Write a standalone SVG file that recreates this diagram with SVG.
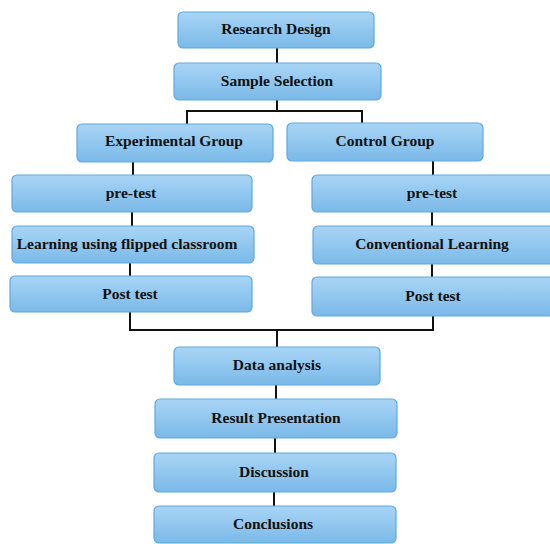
<svg xmlns="http://www.w3.org/2000/svg" width="550" height="544" viewBox="0 0 550 544">
  <defs>
    <linearGradient id="boxFill" x1="0" y1="0" x2="0" y2="1">
      <stop offset="0" stop-color="#a9d5f6"/>
      <stop offset="1" stop-color="#7ab9e8"/>
    </linearGradient>
  </defs>
  <style>
    .box { fill: url(#boxFill); stroke: #5ea9e2; stroke-width: 1.2; }
    .label { font-family: "Liberation Serif", "Times New Roman", serif; font-weight: bold; font-size: 15.5px; fill: #111; text-anchor: middle; dominant-baseline: central; }
    .wire { fill: none; stroke: #111; stroke-width: 2; }
  </style>
  <rect width="550" height="544" fill="#ffffff"/>

  <!-- connectors -->
  <g id="connectors">
    <path class="wire" d="M277 48 V63"/>
    <path class="wire" d="M277 100 V111 M187 111 H362 M187 110 V124 M362 110 V123"/>
    <path class="wire" d="M133 162 V175"/>
    <path class="wire" d="M433 161 V175"/>
    <path class="wire" d="M132 212 V226"/>
    <path class="wire" d="M432 212 V226"/>
    <path class="wire" d="M130 263 V276"/>
    <path class="wire" d="M432 264 V277"/>
    <path class="wire" d="M130 312 V330 H433 V316"/>
    <path class="wire" d="M277 330 V347"/>
    <path class="wire" d="M276 385 V399"/>
    <path class="wire" d="M275 438 V453"/>
    <path class="wire" d="M274 492 V506"/>
  </g>

  <g id="research-design">
    <rect class="box" x="178" y="12" width="196" height="36" rx="5"/>
    <text class="label" x="276" y="28">Research Design</text>
  </g>
  <g id="sample-selection">
    <rect class="box" x="174" y="63" width="207" height="37" rx="5"/>
    <text class="label" x="277" y="80">Sample Selection</text>
  </g>
  <g id="experimental-group">
    <rect class="box" x="77" y="124" width="196" height="38" rx="5"/>
    <text class="label" x="174" y="140">Experimental Group</text>
  </g>
  <g id="control-group">
    <rect class="box" x="287" y="123" width="196" height="38" rx="5"/>
    <text class="label" x="385" y="140">Control Group</text>
  </g>
  <g id="pretest-exp">
    <rect class="box" x="12" y="175" width="240" height="37" rx="5"/>
    <text class="label" x="131" y="192">pre-test</text>
  </g>
  <g id="pretest-ctrl">
    <rect class="box" x="312" y="175" width="244" height="37" rx="5"/>
    <text class="label" x="432" y="192">pre-test</text>
  </g>
  <g id="flipped-learning">
    <rect class="box" x="12" y="226" width="242" height="37" rx="5"/>
    <text class="label" x="127" y="243">Learning using flipped classroom</text>
  </g>
  <g id="conventional-learning">
    <rect class="box" x="313" y="226" width="243" height="38" rx="5"/>
    <text class="label" x="432" y="243">Conventional Learning</text>
  </g>
  <g id="posttest-exp">
    <rect class="box" x="10" y="276" width="242" height="36" rx="5"/>
    <text class="label" x="130" y="293">Post test</text>
  </g>
  <g id="posttest-ctrl">
    <rect class="box" x="312" y="277" width="244" height="39" rx="5"/>
    <text class="label" x="433" y="295">Post test</text>
  </g>
  <g id="data-analysis">
    <rect class="box" x="174" y="347" width="206" height="38" rx="5"/>
    <text class="label" x="277" y="364">Data analysis</text>
  </g>
  <g id="result-presentation">
    <rect class="box" x="155" y="399" width="242" height="39" rx="5"/>
    <text class="label" x="276" y="417">Result Presentation</text>
  </g>
  <g id="discussion">
    <rect class="box" x="154" y="453" width="242" height="39" rx="5"/>
    <text class="label" x="274" y="471">Discussion</text>
  </g>
  <g id="conclusions">
    <rect class="box" x="154" y="506" width="242" height="37" rx="5"/>
    <text class="label" x="273" y="523">Conclusions</text>
  </g>
</svg>
